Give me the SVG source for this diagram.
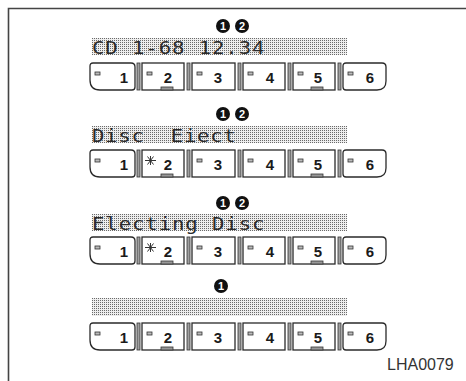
<svg xmlns="http://www.w3.org/2000/svg" width="466" height="381" viewBox="0 0 466 381">
<defs>
<pattern id="dots" width="2" height="2" patternUnits="userSpaceOnUse">
<rect width="2" height="2" fill="#eeeeee"/>
<rect width="1" height="1" fill="#6a6a6a"/>
</pattern>
</defs>
<style>
.btn{fill:#fff;stroke:#2a2a2a;stroke-width:1.3}
.sep{fill:#a0a0a0;stroke:#333;stroke-width:0.8}
.ind{fill:#bbb;stroke:#333;stroke-width:0.8}
.bar{fill:#999;stroke:#333;stroke-width:0.8}
.num{font-family:"Liberation Sans",Arial,sans-serif;font-weight:bold;font-size:15px;fill:#1a1a1a;text-anchor:middle}
.lcd{font-family:"DejaVu Sans Mono","Liberation Mono",monospace;font-size:18px;fill:#2b2b2b}
.band{fill:url(#dots)}
.cn{fill:#111}
.cnt{font-family:"Liberation Sans",Arial,sans-serif;font-weight:bold;font-size:11px;fill:#fff;text-anchor:middle}
.ast{stroke:#333;stroke-width:1;fill:none}
</style>
<rect width="466" height="381" fill="#fff"/>
<g id="frame">
<path d="M8.5,381 V8.5 H466" fill="none" stroke="#444" stroke-width="1.6"/>
</g>

<!-- Row 1 -->
<g id="row1-display">
<g id="r1-callouts">
<circle class="cn" cx="223" cy="26" r="7"/><text class="cnt" x="223" y="30">1</text>
<circle class="cn" cx="242" cy="26" r="7"/><text class="cnt" x="242" y="30">2</text>
</g>
<rect class="band" x="92" y="38" width="255" height="17"/>
<text class="lcd" transform="translate(92,54) scale(1.15,1)" x="0" y="0" textLength="150" lengthAdjust="spacing">CD 1-68 12.34</text>
</g>
<g id="row1-buttons" transform="translate(0,63)">
<g id="r1-b1"><path class="btn" d="M93,0 H131 Q135,0 135,4 V24 Q135,27 132,27 H100 Q90,27 90,17 V3 Q90,0 93,0 Z"/><rect class="ind" x="95" y="9" width="5" height="3"/><text class="num" x="124" y="19.5">1</text></g>
<rect class="sep" x="137" y="0" width="3" height="27"/>
<g id="r1-b2"><rect class="btn" x="142" y="0" width="42" height="27"/><rect class="ind" x="147" y="9" width="5" height="3"/><text class="num" x="168" y="19.5">2</text><rect class="bar" x="161" y="24" width="12" height="3"/></g>
<rect class="sep" x="187" y="0" width="3" height="27"/>
<g id="r1-b3"><rect class="btn" x="192" y="0" width="43" height="27"/><rect class="ind" x="197" y="9" width="5" height="3"/><text class="num" x="218" y="19.5">3</text></g>
<rect class="sep" x="238" y="0" width="3" height="27"/>
<g id="r1-b4"><rect class="btn" x="243" y="0" width="42" height="27"/><rect class="ind" x="248" y="9" width="5" height="3"/><text class="num" x="270" y="19.5">4</text></g>
<rect class="sep" x="288" y="0" width="3" height="27"/>
<g id="r1-b5"><rect class="btn" x="293" y="0" width="42" height="27"/><rect class="ind" x="298" y="9" width="5" height="3"/><text class="num" x="318" y="19.5">5</text><rect class="bar" x="311" y="24" width="12" height="3"/></g>
<rect class="sep" x="338" y="0" width="3" height="27"/>
<g id="r1-b6"><path class="btn" d="M346,0 H382 Q386,0 386,4 V18 Q386,27 377,27 H346 Q343,27 343,24 V3 Q343,0 346,0 Z"/><rect class="ind" x="348" y="9" width="5" height="3"/><text class="num" x="370" y="19.5">6</text></g>
</g>

<!-- Row 2 -->
<g id="row2-display">
<g id="r2-callouts">
<circle class="cn" cx="223" cy="114" r="7"/><text class="cnt" x="223" y="118">1</text>
<circle class="cn" cx="242" cy="114" r="7"/><text class="cnt" x="242" y="118">2</text>
</g>
<rect class="band" x="92" y="126" width="255" height="17"/>
<text class="lcd" transform="translate(92,142) scale(1.15,1)" x="0" y="0" textLength="125" lengthAdjust="spacing" xml:space="preserve">Disc  Eiect</text>
</g>
<g id="row2-buttons" transform="translate(0,150)">
<g id="r2-b1"><path class="btn" d="M93,0 H131 Q135,0 135,4 V24 Q135,27 132,27 H100 Q90,27 90,17 V3 Q90,0 93,0 Z"/><rect class="ind" x="95" y="9" width="5" height="3"/><text class="num" x="124" y="19.5">1</text></g>
<rect class="sep" x="137" y="0" width="3" height="27"/>
<g id="r2-b2"><rect class="btn" x="142" y="0" width="42" height="27"/><path class="ast" d="M145,10.5 H156 M147.5,6.5 L153.5,14.5 M153.5,6.5 L147.5,14.5 M150.5,6 V15"/><text class="num" x="168" y="19.5">2</text><rect class="bar" x="161" y="24" width="12" height="3"/></g>
<rect class="sep" x="187" y="0" width="3" height="27"/>
<g id="r2-b3"><rect class="btn" x="192" y="0" width="43" height="27"/><rect class="ind" x="197" y="9" width="5" height="3"/><text class="num" x="218" y="19.5">3</text></g>
<rect class="sep" x="238" y="0" width="3" height="27"/>
<g id="r2-b4"><rect class="btn" x="243" y="0" width="42" height="27"/><rect class="ind" x="248" y="9" width="5" height="3"/><text class="num" x="270" y="19.5">4</text></g>
<rect class="sep" x="288" y="0" width="3" height="27"/>
<g id="r2-b5"><rect class="btn" x="293" y="0" width="42" height="27"/><rect class="ind" x="298" y="9" width="5" height="3"/><text class="num" x="318" y="19.5">5</text><rect class="bar" x="311" y="24" width="12" height="3"/></g>
<rect class="sep" x="338" y="0" width="3" height="27"/>
<g id="r2-b6"><path class="btn" d="M346,0 H382 Q386,0 386,4 V18 Q386,27 377,27 H346 Q343,27 343,24 V3 Q343,0 346,0 Z"/><rect class="ind" x="348" y="9" width="5" height="3"/><text class="num" x="370" y="19.5">6</text></g>
</g>

<!-- Row 3 -->
<g id="row3-display">
<g id="r3-callouts">
<circle class="cn" cx="223" cy="203" r="7"/><text class="cnt" x="223" y="207">1</text>
<circle class="cn" cx="242" cy="203" r="7"/><text class="cnt" x="242" y="207">2</text>
</g>
<rect class="band" x="92" y="214" width="255" height="17"/>
<text class="lcd" transform="translate(92,230) scale(1.15,1)" x="0" y="0" textLength="150" lengthAdjust="spacing">Electing Disc</text>
</g>
<g id="row3-buttons" transform="translate(0,237)">
<g id="r3-b1"><path class="btn" d="M93,0 H131 Q135,0 135,4 V24 Q135,27 132,27 H100 Q90,27 90,17 V3 Q90,0 93,0 Z"/><rect class="ind" x="95" y="9" width="5" height="3"/><text class="num" x="124" y="19.5">1</text></g>
<rect class="sep" x="137" y="0" width="3" height="27"/>
<g id="r3-b2"><rect class="btn" x="142" y="0" width="42" height="27"/><path class="ast" d="M145,10.5 H156 M147.5,6.5 L153.5,14.5 M153.5,6.5 L147.5,14.5 M150.5,6 V15"/><text class="num" x="168" y="19.5">2</text><rect class="bar" x="161" y="24" width="12" height="3"/></g>
<rect class="sep" x="187" y="0" width="3" height="27"/>
<g id="r3-b3"><rect class="btn" x="192" y="0" width="43" height="27"/><rect class="ind" x="197" y="9" width="5" height="3"/><text class="num" x="218" y="19.5">3</text></g>
<rect class="sep" x="238" y="0" width="3" height="27"/>
<g id="r3-b4"><rect class="btn" x="243" y="0" width="42" height="27"/><rect class="ind" x="248" y="9" width="5" height="3"/><text class="num" x="270" y="19.5">4</text></g>
<rect class="sep" x="288" y="0" width="3" height="27"/>
<g id="r3-b5"><rect class="btn" x="293" y="0" width="42" height="27"/><rect class="ind" x="298" y="9" width="5" height="3"/><text class="num" x="318" y="19.5">5</text><rect class="bar" x="311" y="24" width="12" height="3"/></g>
<rect class="sep" x="338" y="0" width="3" height="27"/>
<g id="r3-b6"><path class="btn" d="M346,0 H382 Q386,0 386,4 V18 Q386,27 377,27 H346 Q343,27 343,24 V3 Q343,0 346,0 Z"/><rect class="ind" x="348" y="9" width="5" height="3"/><text class="num" x="370" y="19.5">6</text></g>
</g>

<!-- Row 4 -->
<g id="row4-display">
<g id="r4-callouts">
<circle class="cn" cx="221" cy="286" r="7"/><text class="cnt" x="221" y="290">1</text>
</g>
<rect class="band" x="92" y="298" width="255" height="18"/>
</g>
<g id="row4-buttons" transform="translate(0,323)">
<g id="r4-b1"><path class="btn" d="M93,0 H131 Q135,0 135,4 V24 Q135,27 132,27 H100 Q90,27 90,17 V3 Q90,0 93,0 Z"/><rect class="ind" x="95" y="9" width="5" height="3"/><text class="num" x="124" y="19.5">1</text></g>
<rect class="sep" x="137" y="0" width="3" height="27"/>
<g id="r4-b2"><rect class="btn" x="142" y="0" width="42" height="27"/><rect class="ind" x="147" y="9" width="5" height="3"/><text class="num" x="168" y="19.5">2</text><rect class="bar" x="161" y="24" width="12" height="3"/></g>
<rect class="sep" x="187" y="0" width="3" height="27"/>
<g id="r4-b3"><rect class="btn" x="192" y="0" width="43" height="27"/><rect class="ind" x="197" y="9" width="5" height="3"/><text class="num" x="218" y="19.5">3</text></g>
<rect class="sep" x="238" y="0" width="3" height="27"/>
<g id="r4-b4"><rect class="btn" x="243" y="0" width="42" height="27"/><rect class="ind" x="248" y="9" width="5" height="3"/><text class="num" x="270" y="19.5">4</text></g>
<rect class="sep" x="288" y="0" width="3" height="27"/>
<g id="r4-b5"><rect class="btn" x="293" y="0" width="42" height="27"/><rect class="ind" x="298" y="9" width="5" height="3"/><text class="num" x="318" y="19.5">5</text><rect class="bar" x="311" y="24" width="12" height="3"/></g>
<rect class="sep" x="338" y="0" width="3" height="27"/>
<g id="r4-b6"><path class="btn" d="M346,0 H382 Q386,0 386,4 V18 Q386,27 377,27 H346 Q343,27 343,24 V3 Q343,0 346,0 Z"/><rect class="ind" x="348" y="9" width="5" height="3"/><text class="num" x="370" y="19.5">6</text></g>
</g>

<g id="connectors"></g>
<text id="figure-code" x="387" y="370" font-family="'Liberation Sans',Arial,sans-serif" font-size="16" fill="#333">LHA0079</text>
</svg>
